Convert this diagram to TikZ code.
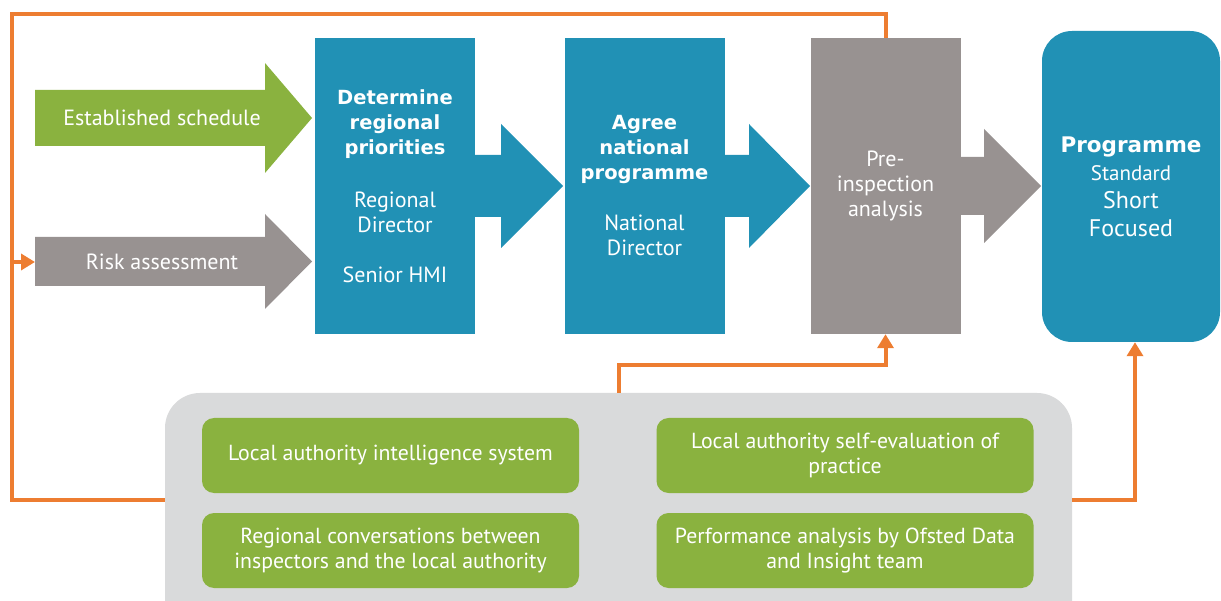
\documentclass[tikz,border=0pt]{standalone}
\usepackage{fontspec}
\setmainfont{PT Sans}
\newfontfamily\headfont{DejaVu Sans}
\usetikzlibrary{arrows.meta}
\definecolor{ofBlue}{RGB}{33,145,181}
\definecolor{ofGreen}{RGB}{138,178,63}
\definecolor{ofGrey}{RGB}{152,146,145}
\definecolor{ofPanel}{RGB}{217,218,219}
\definecolor{ofOrange}{RGB}{237,125,49}
\newcommand{\stagetitle}[1]{{\headfont\bfseries\fontsize{19.5}{25}\selectfont #1}}

\begin{document}
\begin{tikzpicture}[x=1pt, y=-1pt,
  every node/.style={font=\fontsize{22}{25}\selectfont, align=center, text=white, inner sep=0pt},
  stagebox/.style={minimum width=160pt, minimum height=296pt},
  greenbox/.style={fill=ofGreen, rounded corners=12pt, minimum width=377pt, minimum height=75pt, font=\fontsize{21.8}{25}\selectfont},
  feedback/.style={draw=ofOrange, line width=4pt},
  tip/.style={-{Triangle[length=14pt,width=16pt]}}]
\useasboundingbox (0,0) rectangle (1221,601);

% Input arrows
\fill[ofGreen] (35,90) -- (265,90) -- (265,63) -- (312,118) -- (265,173) -- (265,146) -- (35,146) -- cycle;
\fill[ofGrey] (35,237) -- (265,237) -- (265,214) -- (312,261.5) -- (265,309) -- (265,286) -- (35,286) -- cycle;
\node (schedule) at (162,118) {Established schedule};
\node (risk) at (162,262) {Risk assessment};

% Stages
\node[stagebox, fill=ofBlue] (regional) at (395,186)
  {\stagetitle{Determine}\\\stagetitle{regional}\\\stagetitle{priorities}\\[28pt]Regional\\Director\\[25pt]Senior HMI};
\node[stagebox, fill=ofBlue] (national) at (644.5,186)
  {\stagetitle{Agree}\\\stagetitle{national}\\\stagetitle{programme}\\[26pt]National\\Director};
\node[stagebox, minimum width=150pt, fill=ofGrey] (pre) at (885.5,186) {Pre-\\inspection\\analysis};
\node[fill=ofBlue, rounded corners=30pt, minimum width=178pt, minimum height=311pt,
  font=\fontsize{24}{28}\selectfont] (prog) at (1131,186.5)
  {{\headfont\bfseries\fontsize{21.5}{28}\selectfont Programme}\\{\fontsize{21}{28}\selectfont Standard}\\Short\\Focused};

% Arrows between stages
\fill[ofBlue] (475,155) -- (501,155) -- (501,124) -- (563,186) -- (501,248) -- (501,217) -- (475,217) -- cycle;
\fill[ofBlue] (724,155) -- (749,155) -- (749,124) -- (810,186) -- (749,248) -- (749,217) -- (724,217) -- cycle;
\fill[ofGrey] (960,157) -- (984,157) -- (984,129) -- (1041,186) -- (984,243) -- (984,215) -- (960,215) -- cycle;

% Sources of information
\node[fill=ofPanel, rounded corners=35pt, minimum width=907pt, minimum height=247pt] (panel) at (618.5,516.5) {};
\node[greenbox] (lais) at (390.5,455.5) {Local authority intelligence system};
\node[greenbox] (conv) at (390.5,550.5) {Regional conversations between\\inspectors and the local authority};
\node[greenbox] (selfeval) at (845,455.5) {Local authority self-evaluation of\\practice};
\node[greenbox] (perf) at (845,550.5) {Performance analysis by Ofsted Data\\and Insight team};

% Feedback lines
\coordinate (corner) at (12,14);
\coordinate (tap) at (12,262);
\coordinate (riskTail) at (35,262);
\draw[feedback] ([yshift=16.5pt]panel.west) -| (corner) -| (pre.north);
\draw[feedback, tip] (tap) -- (riskTail);
\draw[feedback, tip] (panel.north) -- ++(0,-28) -| (pre.south);
\draw[feedback, tip] ([yshift=16.5pt]panel.east) -| ([xshift=4pt]prog.south);
\end{tikzpicture}
\end{document}
